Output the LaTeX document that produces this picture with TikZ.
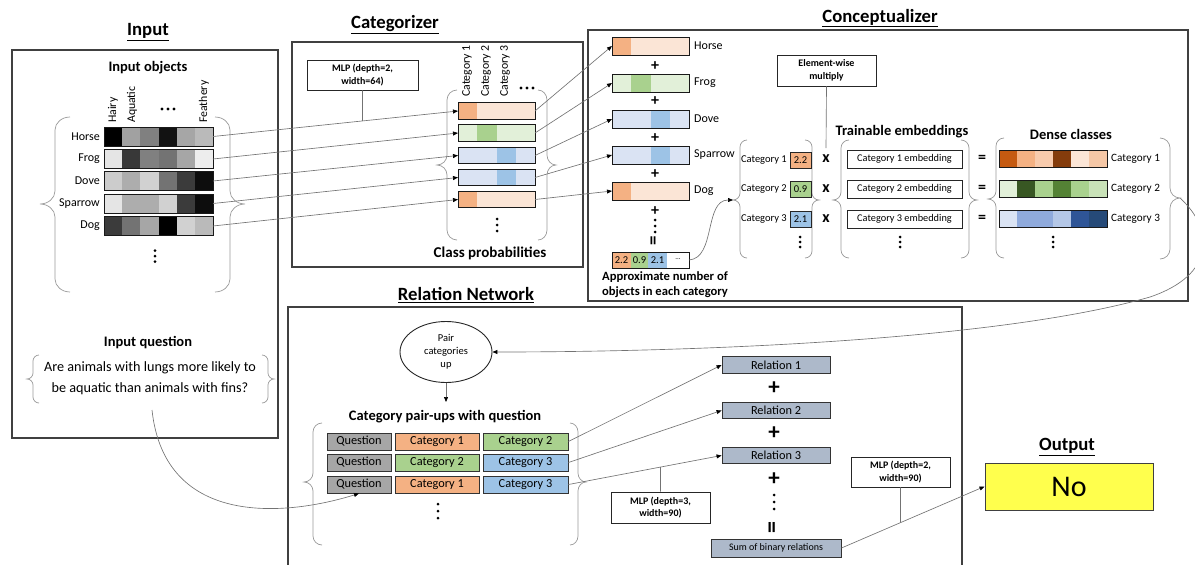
\documentclass[tikz,border=0pt]{standalone}
\usepackage{fontspec}
\setmainfont{Carlito}
\usetikzlibrary{arrows.meta,calc,shapes.geometric}

\definecolor{orL}{HTML}{FBE5D6}
\definecolor{orM}{HTML}{F4B183}
\definecolor{grL}{HTML}{E2F0D9}
\definecolor{grM}{HTML}{A9D18E}
\definecolor{blL}{HTML}{DAE3F3}
\definecolor{blM}{HTML}{9DC3E6}
\definecolor{dOa}{HTML}{C55A11}
\definecolor{dOb}{HTML}{F4B183}
\definecolor{dOc}{HTML}{F8CBAD}
\definecolor{dOd}{HTML}{843C0C}
\definecolor{dOe}{HTML}{FBE5D6}
\definecolor{dOf}{HTML}{F5C7A6}
\definecolor{dGa}{HTML}{E2F0D9}
\definecolor{dGb}{HTML}{385723}
\definecolor{dGc}{HTML}{A9D18E}
\definecolor{dGd}{HTML}{548235}
\definecolor{dGe}{HTML}{A9D18E}
\definecolor{dGf}{HTML}{C9E2B8}
\definecolor{dBa}{HTML}{DAE3F3}
\definecolor{dBb}{HTML}{8FAADC}
\definecolor{dBc}{HTML}{B4C7E7}
\definecolor{dBd}{HTML}{2F5597}
\definecolor{dBe}{HTML}{264A78}
\definecolor{qgray}{HTML}{A6A6A6}
\definecolor{relgray}{HTML}{ADB9CA}
\definecolor{outyel}{HTML}{FFFF4D}

% a bar of coloured cells with a framed node on top
% #1 name, #2 left x, #3 centre y, #4 cell width, #5 cell count, #6 height, #7 colours
\newcommand{\cellbar}[7]{%
  \foreach \cc [count=\ci from 0] in {#7} {\fill[fill=\cc] ({#2+\ci*#4},{#3-#6/2}) rectangle ++(#4,#6);}
  \node[barframe, minimum width={#4*#5}, minimum height={#6}, anchor=west] (#1) at (#2,#3) {};
}
% curly brace: #1 line x, #2 top, #3 bottom, #4 tip y, #5 signed x radius, #6 y radius
\newcommand{\bracecurve}[6]{%
  \draw[bracepath] ({#1+(#5)},#2) .. controls ({#1+0.45*(#5)},#2) and (#1,{#2+0.45*#6}) .. (#1,{#2+#6})
    -- (#1,{#4-#6}) .. controls (#1,{#4-0.45*#6}) and ({#1-0.45*(#5)},#4) .. ({#1-(#5)},#4)
    .. controls ({#1-0.45*(#5)},#4) and (#1,{#4+0.45*#6}) .. (#1,{#4+#6})
    -- (#1,{#3-#6}) .. controls (#1,{#3-0.45*#6}) and ({#1+0.45*(#5)},#3) .. ({#1+(#5)},#3);
}
% vertical and horizontal dot columns
\newcommand{\vdotcol}[3]{\fill[black] (#1,{#2-#3}) circle (1.5) (#1,#2) circle (1.5) (#1,{#2+#3}) circle (1.5);}
\newcommand{\hdotrow}[3]{\fill[black] ({#1-#3},#2) circle (1.6) (#1,#2) circle (1.6) ({#1+#3},#2) circle (1.6);}

\begin{document}
\begin{tikzpicture}[x=1pt,y=-1pt,
  panel/.style={draw=black!75, line width=1.3pt},
  title/.style={font=\fontsize{18.7}{22}\selectfont\bfseries, inner sep=1pt},
  head/.style={font=\fontsize{14.5}{16}\selectfont\bfseries, inner sep=1pt, align=center},
  lab/.style={font=\fontsize{12}{14}\selectfont, inner sep=1pt},
  collab/.style={lab, font=\fontsize{11.8}{14}\selectfont, rotate=90, anchor=west},
  smalllab/.style={font=\fontsize{10.5}{12}\selectfont, inner sep=1pt},
  barframe/.style={draw=black!90, line width=1pt, inner sep=0pt, outer sep=0pt},
  bracepath/.style={draw=black!40, line width=0.7pt},
  conn/.style={draw=black!55, line width=0.65pt},
  arr/.style={conn, -{Triangle[length=5pt,width=4pt,color=black]}},
  mlp/.style={draw=black!85, line width=0.9pt, fill=white, align=center, inner sep=0pt,
    font=\fontsize{10}{12.5}\selectfont\bfseries},
  valbox/.style={draw=black!85, line width=0.8pt, inner sep=0pt, minimum width=21, minimum height=16,
    font=\fontsize{10.5}{12}\selectfont},
  embbox/.style={draw=black!85, line width=1pt, fill=white, inner sep=0pt, minimum width=115,
    minimum height=18, font=\fontsize{10.3}{12}\selectfont},
  tagbox/.style={draw=black!80, line width=0.9pt, inner sep=0pt, minimum height=17,
    font=\fontsize{12.3}{14}\selectfont},
  relbox/.style={draw=black!80, line width=0.9pt, fill=relgray, inner sep=0pt, minimum width=108,
    minimum height=16.5, font=\fontsize{12.3}{14}\selectfont},
  plus/.style={font=\fontsize{16}{16}\selectfont\bfseries, inner sep=0pt},
  bigplus/.style={font=\fontsize{23}{23}\selectfont\bfseries, inner sep=0pt},
  times/.style={font=\fontsize{16}{16}\selectfont\bfseries, inner sep=0pt},
]
\useasboundingbox (0,0) rectangle (1195,565);

%------------------------------------------------ Input
\node[title] (tIn) at (148,32) {\underline{Input}};
\draw[panel] (12,50) rectangle (278,438);
\node[head] (hObj) at (148,68) {Input objects};
\node[collab] (cHairy) at (113,124) {Hairy};
\node[collab] (cAquatic) at (132,124) {Aquatic};
\hdotrow{168}{109}{6}
\node[collab] (cFeathery) at (204,124) {Feathery};

\cellbar{inHorse}{104}{136.5}{18.17}{6}{19}{black,black!37,black!50,black!93,black!35,black!27}
\cellbar{inFrog}{104}{159}{18.17}{6}{19}{black!10,black!78,black!50,black!55,black!35,black!7}
\cellbar{inDove}{104}{181}{18.17}{6}{19}{black!20,black!32,black!18,black!55,black!77,black!95}
\cellbar{inSparrow}{104}{203.5}{18.17}{6}{19}{black!10,black!32,black!32,black!18,black!77,black!95}
\cellbar{inDog}{104}{226}{18.17}{6}{19}{black!77,black!55,black!35,black!100,black!18,black!27}
\node[lab, anchor=east] (lHorse) at (101,136.5) {Horse};
\node[lab, anchor=east] (lFrog) at (101,159) {Frog};
\node[lab, anchor=east] (lDove) at (101,181) {Dove};
\node[lab, anchor=east] (lSparrow) at (101,203.5) {Sparrow};
\node[lab, anchor=east] (lDog) at (101,226) {Dog};
\bracecurve{55}{117}{292}{204}{15}{13}
\bracecurve{230}{117}{292}{204}{-15}{13}
\vdotcol{155}{256}{5.5}

\node[head] (hQ) at (148,343) {Input question};
\node[font=\fontsize{14.2}{21}\selectfont, align=center, inner sep=1pt] (qtext) at (150,378)
  {Are animals with lungs more likely to\\be aquatic than animals with fins?};
\bracecurve{33}{355}{403}{379}{6}{6}
\bracecurve{268}{355}{403}{379}{-6}{6}
\coordinate (qStart) at (152,410);

%------------------------------------------------ Categorizer
\node[title] (tCat) at (395,25) {\underline{Categorizer}};
\draw[panel] (292,42) rectangle (583,267);
\node[mlp, minimum width=111, minimum height=30] (mlpA) at (362.5,75) {MLP (depth=2,\\width=64)};
\node[collab] (cc1) at (467,98) {Category 1};
\node[collab] (cc2) at (486,98) {Category 2};
\node[collab] (cc3) at (505,98) {Category 3};
\hdotrow{527}{88}{6}
\cellbar{catHorse}{458}{111}{19.25}{4}{16.5}{orM,orL,orL,orL}
\cellbar{catFrog}{458}{133}{19.25}{4}{16.5}{grL,grM,grL,grL}
\cellbar{catDove}{458}{155.5}{19.25}{4}{16.5}{blL,blL,blM,blL}
\cellbar{catSparrow}{458}{177.5}{19.25}{4}{16.5}{blL,blL,blM,blL}
\cellbar{catDog}{458}{199.5}{19.25}{4}{16.5}{orM,orL,orL,orL}
\bracecurve{447}{90}{240}{165}{10}{10}
\bracecurve{547}{90}{240}{165}{-9}{10}
\vdotcol{497}{225}{6}
\node[head, font=\fontsize{15}{16}\selectfont\bfseries] (hProb) at (490,253) {Class probabilities};

%------------------------------------------------ Conceptualizer
\node[title] (tCon) at (880,18) {\underline{Conceptualizer}};
\draw[panel] (588,30) rectangle (1188,301);
\cellbar{conHorse}{612}{46}{19.25}{4}{18}{orM,orL,orL,orL}
\cellbar{conFrog}{612}{83}{19.25}{4}{18}{grL,grM,grL,grL}
\cellbar{conDove}{612}{119}{19.25}{4}{18}{blL,blL,blM,blL}
\cellbar{conSparrow}{612}{155}{19.25}{4}{18}{blL,blL,blM,blL}
\cellbar{conDog}{612}{191}{19.25}{4}{18}{orM,orL,orL,orL}
\node[lab, anchor=west] (nHorse) at (693,46) {Horse};
\node[lab, anchor=west] (nFrog) at (693,83) {Frog};
\node[lab, anchor=west] (nDove) at (693,119) {Dove};
\node[lab, anchor=west] (nSparrow) at (693,155) {Sparrow};
\node[lab, anchor=west] (nDog) at (693,191) {Dog};
\node[plus] (p1) at (655,66) {+};
\node[plus] (p2) at (655,101) {+};
\node[plus] (p3) at (655,138) {+};
\node[plus] (p4) at (655,174) {+};
\node[plus] (p5) at (655,211) {+};
\vdotcol{655}{226}{6}
\node[plus, rotate=90, font=\fontsize{19}{19}\selectfont\bfseries] (eqA) at (655,241) {=};

% per-category totals
\fill[orM] (612,252) rectangle (631,268);
\fill[grM] (631,252) rectangle (648,268);
\fill[blM] (648,252) rectangle (667,268);
\node[smalllab] (t1) at (621.5,260) {2.2};
\node[smalllab] (t2) at (639.5,260) {0.9};
\node[smalllab] (t3) at (657.5,260) {2.1};
\node[font=\fontsize{7}{8}\selectfont] (t4) at (678,259) {...};
\node[barframe, minimum width=77, minimum height=16] (cntBox) at (650.5,260) {};
\node[head, font=\fontsize{12.6}{15}\selectfont\bfseries] (hApprox) at (665,284.5)
  {Approximate number of\\objects in each category};

\bracecurve{740}{140}{258}{200}{7}{7}
\bracecurve{812}{140}{258}{200}{-7}{7}
\coordinate (cntTip) at (733,200);
\node[smalllab, anchor=east] (k1) at (788,160) {Category 1};
\node[smalllab, anchor=east] (k2) at (788,189) {Category 2};
\node[smalllab, anchor=east] (k3) at (788,219) {Category 3};
\node[valbox, fill=orM] (v1) at (800.5,160) {2.2};
\node[valbox, fill=grM] (v2) at (800.5,189) {0.9};
\node[valbox, fill=blM] (v3) at (800.5,219) {2.1};
\vdotcol{800}{242}{5}

\node[times] (x1) at (826,159) {x};
\node[times] (x2) at (826,189) {x};
\node[times] (x3) at (826,219) {x};
\node[mlp, minimum width=99, minimum height=31] (ew) at (826.5,70.5) {Element-wise\\multiply};
\coordinate (ewEnd) at (826,148);

\node[head] (hTrain) at (902,132) {Trainable embeddings};
\bracecurve{841}{140}{258}{200}{8}{8}
\bracecurve{969}{140}{258}{200}{-8}{8}
\node[embbox] (e1) at (904.5,159) {Category 1 embedding};
\node[embbox] (e2) at (904.5,189) {Category 2 embedding};
\node[embbox] (e3) at (904.5,219) {Category 3 embedding};
\vdotcol{900}{242}{5}
\node[times] (q1eq) at (982,159) {=};
\node[times] (q2eq) at (982,189) {=};
\node[times] (q3eq) at (982,219) {=};

\node[head] (hDense) at (1071,134) {Dense classes};
\bracecurve{996}{138}{258}{199}{8}{8}
\bracecurve{1170}{138}{259}{198}{-10}{10}
\coordinate (denseTip) at (1180,198);
\cellbar{dense1}{999}{159}{18}{6}{17.5}{dOa,dOb,dOc,dOd,dOe,dOf}
\cellbar{dense2}{999}{189}{18}{6}{17.5}{dGa,dGb,dGc,dGd,dGe,dGf}
\cellbar{dense3}{999}{219}{18}{6}{17.5}{dBa,dBb,dBb,dBc,dBd,dBe}
\node[lab, font=\fontsize{11.2}{13}\selectfont, anchor=west] (dl1) at (1110,159) {Category 1};
\node[lab, font=\fontsize{11.2}{13}\selectfont, anchor=west] (dl2) at (1110,189) {Category 2};
\node[lab, font=\fontsize{11.2}{13}\selectfont, anchor=west] (dl3) at (1110,219) {Category 3};
\vdotcol{1053}{242}{5}

%------------------------------------------------ Relation Network
\node[title] (tRel) at (466,295) {\underline{Relation Network}};
\draw[panel] (288,575) -- (288,307) -- (962,307) -- (962,575);
\node[ellipse, draw=black!85, line width=0.9pt, minimum width=92, minimum height=61, inner sep=0pt,
  align=center, font=\fontsize{10.5}{13}\selectfont] (pair) at (446,352) {Pair\\categories\\up};
\coordinate (pairEnd) at (446,402);
\node[head] (hPair) at (445,417) {Category pair-ups with question};

\node[tagbox, fill=qgray, minimum width=64] (g11) at (359,441.5) {Question};
\node[tagbox, fill=orM, minimum width=84] (g12) at (437,441.5) {Category 1};
\node[tagbox, fill=grM, minimum width=85] (g13) at (525.5,441.5) {Category 2};
\node[tagbox, fill=qgray, minimum width=64] (g21) at (359,462.5) {Question};
\node[tagbox, fill=grM, minimum width=84] (g22) at (437,462.5) {Category 2};
\node[tagbox, fill=blM, minimum width=85] (g23) at (525.5,462.5) {Category 3};
\node[tagbox, fill=qgray, minimum width=64] (g31) at (359,484.5) {Question};
\node[tagbox, fill=orM, minimum width=84] (g32) at (437,484.5) {Category 1};
\node[tagbox, fill=blM, minimum width=85] (g33) at (525.5,484.5) {Category 3};
\bracecurve{313}{423}{545}{482}{9}{9}
\bracecurve{578}{423}{545}{482}{-8}{9}
\vdotcol{438}{511}{7}

\node[relbox] (rel1) at (776,365) {Relation 1};
\node[relbox] (rel2) at (776,410.5) {Relation 2};
\node[relbox] (rel3) at (776,455.5) {Relation 3};
\node[bigplus] (rp1) at (774,388) {+};
\node[bigplus] (rp2) at (774,433) {+};
\node[bigplus] (rp3) at (774,479) {+};
\vdotcol{774}{502}{7}
\node[bigplus, rotate=90, font=\fontsize{24}{24}\selectfont\bfseries] (eqB) at (774,528) {=};
\node[relbox, minimum width=130, minimum height=18, font=\fontsize{10}{12}\selectfont] (sumrel) at (776,548) {Sum of binary relations};
\node[mlp, minimum width=99, minimum height=31] (mlpB) at (660.5,507.5) {MLP (depth=3,\\width=90)};
\node[mlp, minimum width=99, minimum height=30] (mlpC) at (900.5,472) {MLP (depth=2,\\width=90)};

%------------------------------------------------ Output
\node[title] (tOut) at (1067,447) {\underline{Output}};
\node[draw=black!75, line width=1pt, fill=outyel, minimum width=168, minimum height=47, inner sep=0pt,
  font=\fontsize{30}{32}\selectfont] (out) at (1069,486.5) {No};

%------------------------------------------------ Connectors
\foreach \an in {Horse,Frog,Dove,Sparrow,Dog} {
  \draw[arr] (in\an.east) -- (cat\an.west);
  \draw[arr] (cat\an.east) -- (con\an.west);
}
\draw[conn] (mlpA.south) -- (intersection of mlpA.south--mlpA.north and inHorse.east--catHorse.west);
\draw[arr] (cntBox.east) .. controls (716,258) and (704,200) .. (cntTip);
\draw[conn] (ew.south) -- (ewEnd);
\draw[arr] (denseTip) .. controls (1215,230) and (1215,275) .. (1150,297)
  .. controls (1000,340) and (700,352) .. (pair.east);
\draw[arr] (pair.south) -- (pairEnd);
\draw[arr] (qStart) .. controls (165,530) and (290,515) .. (g31.south);
\draw[arr] (g13.east) -- (rel1.west);
\draw[arr] (g23.east) -- (rel2.west);
\draw[arr] (g33.east) -- (rel3.west);
\draw[conn] (mlpB.north) -- (intersection of mlpB.north--mlpB.south and g33.east--rel3.west);
\draw[arr] (sumrel.east) -- (out.west);
\draw[conn] (mlpC.south) -- (intersection of mlpC.south--mlpC.north and sumrel.east--out.west);
\end{tikzpicture}
\end{document}
